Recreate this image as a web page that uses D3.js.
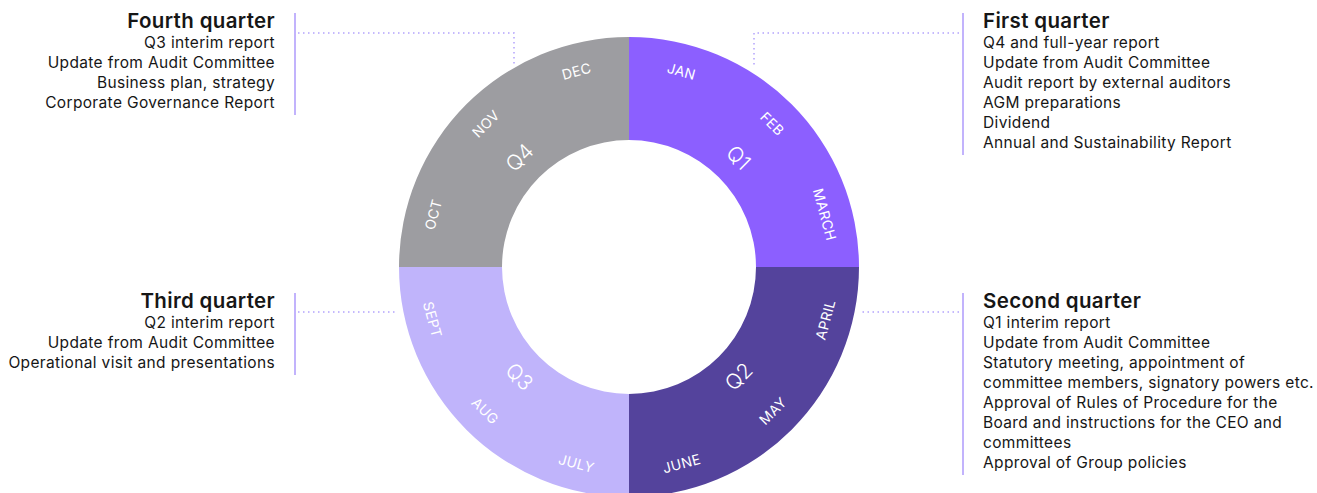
<!DOCTYPE html>
<html>
<head>
<meta charset="utf-8">
<script src="https://cdn.jsdelivr.net/npm/d3@7"></script>
<style>
  body { margin: 0; background: #fff; }
  svg { display: block; font-family: Inter, "Noto Sans", sans-serif; }
</style>
</head>
<body>
<div id="chart"></div>
<script>
// quarters going clockwise from 12 o'clock
const quarters = ["Q1", "Q2", "Q3", "Q4"];
const quarterColors = ["#8c5fff", "#54439c", "#c0b4fb", "#9d9da1"];
const months = ["JAN", "FEB", "MARCH", "APRIL", "MAY", "JUNE", "JULY", "AUG", "SEPT", "OCT", "NOV", "DEC"];

const quarterTitles = ["First quarter", "Second quarter", "Third quarter", "Fourth quarter"];
const q1Items = ["Q4 and full-year report", "Update from Audit Committee", "Audit report by external auditors", "AGM preparations", "Dividend", "Annual and Sustainability Report"];
const q2Items = ["Q1 interim report", "Update from Audit Committee", "Statutory meeting, appointment of", "committee members, signatory powers etc.", "Approval of Rules of Procedure for the", "Board and instructions for the CEO and", "committees", "Approval of Group policies"];
const q3Items = ["Q2 interim report", "Update from Audit Committee", "Operational visit and presentations"];
const q4Items = ["Q3 interim report", "Update from Audit Committee", "Business plan, strategy", "Corporate Governance Report"];

const width = 1317;
const height = 493;
const cx = 629, cy = 267;
const outerR = 230, innerR = 127;

const svg = d3
  .select("#chart")
  .append("svg")
  .attr("width", width)
  .attr("height", height);

const ring = svg.append("g").attr("transform", "translate(" + cx + "," + cy + ")");

// equal slices for the quarters and the months
const pie = d3.pie().value(1).sort(null);
const arc = d3.arc().innerRadius(innerR).outerRadius(outerR);

ring
  .selectAll("path")
  .data(pie(quarters))
  .enter()
  .append("path")
  .attr("d", arc)
  .style("fill", (d, i) => quarterColors[i]);

const toDeg = a => (a * 180) / Math.PI;
// keep text readable: flip labels on the lower half
function labelRotation(d) {
  let a = toDeg((d.startAngle + d.endAngle) / 2);
  if (a > 90 && a < 270) a -= 180;
  if (a >= 270) a -= 360;
  return a;
}

const monthArc = d3.arc().innerRadius(203).outerRadius(203);
ring
  .selectAll(".month")
  .data(pie(months))
  .enter()
  .append("text")
  .attr("class", "month")
  .attr("transform", d => {
    const c = monthArc.centroid(d);
    return "translate(" + c[0] + "," + c[1] + ") rotate(" + labelRotation(d) + ")";
  })
  .attr("text-anchor", "middle")
  .attr("dominant-baseline", "central")
  .style("fill", "#fff")
  .style("font-size", "14px")
  .style("letter-spacing", "0.3px")
  .text(d => d.data);

const quarterArc = d3.arc().innerRadius(155).outerRadius(155);
ring
  .selectAll(".quarter")
  .data(pie(quarters))
  .enter()
  .append("text")
  .attr("class", "quarter")
  .attr("transform", d => {
    const c = quarterArc.centroid(d);
    return "translate(" + c[0] + "," + c[1] + ") rotate(" + labelRotation(d) + ")";
  })
  .attr("text-anchor", "middle")
  .attr("dominant-baseline", "central")
  .style("fill", "#fff")
  .style("font-size", "21px")
  .style("font-weight", "300")
  .text(d => d.data);

// text blocks round the ring
const blocks = [
  { title: quarterTitles[0], items: q1Items, x: 983, y: 28, anchor: "start", bar: 963, connector: [[959, 33], [754, 33], [754, 65]] },
  { title: quarterTitles[1], items: q2Items, x: 983, y: 308, anchor: "start", bar: 963, connector: [[959, 312], [862, 312]] },
  { title: quarterTitles[2], items: q3Items, x: 275, y: 308, anchor: "end", bar: 295, connector: [[298, 312], [395, 312]] },
  { title: quarterTitles[3], items: q4Items, x: 275, y: 28, anchor: "end", bar: 295, connector: [[298, 33], [514, 33], [514, 65]] }
];

const lineGap = 20;
blocks.forEach(b => {
  svg
    .append("line")
    .attr("x1", b.bar)
    .attr("x2", b.bar)
    .attr("y1", b.y - 15)
    .attr("y2", b.y + b.items.length * lineGap + 7)
    .style("stroke", "#c2b3fc")
    .style("stroke-width", 2);

  svg
    .append("path")
    .attr("d", d3.line()(b.connector))
    .style("fill", "none")
    .style("stroke", "#b3a3fb")
    .style("stroke-width", 1.5)
    .style("stroke-dasharray", "1.5 3.5");

  const t = svg
    .append("text")
    .attr("text-anchor", b.anchor)
    .style("fill", "#161616");
  t.append("tspan")
    .attr("x", b.x)
    .attr("y", b.y)
    .style("font-size", "20.5px")
    .style("font-weight", "600")
    .style("letter-spacing", "0.35px")
    .text(b.title);
  b.items.forEach((item, i) => {
    t.append("tspan")
      .attr("x", b.x)
      .attr("y", b.y + (i + 1) * lineGap)
      .style("font-size", "15.5px")
      .style("letter-spacing", "0.35px")
      .text(item);
  });
});
</script>
</body>
</html>
